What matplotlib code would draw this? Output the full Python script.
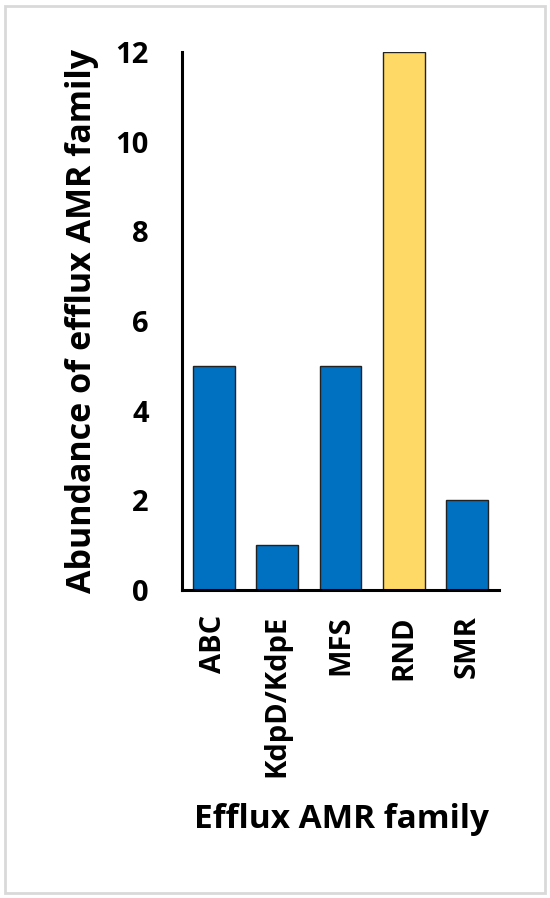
import matplotlib
matplotlib.use('Agg')
import matplotlib.pyplot as plt
from matplotlib.patches import Rectangle

families = ["ABC", "KdpD/KdpE", "MFS", "RND", "SMR"]
abundance = [5, 1, 5, 12, 2]
bar_colors = ["#0070C0", "#0070C0", "#0070C0", "#FFD966", "#0070C0"]

plt.rcParams['font.family'] = ['Open Sans', 'DejaVu Sans']
plt.rcParams['font.weight'] = 'bold'

fig = plt.figure(figsize=(5.5, 8.98), dpi=100)
ax = fig.add_axes([182/550, 1 - 590/898, (499 - 182)/550, (590 - 52)/898])

x = range(len(families))
ax.bar(x, abundance, width=0.66, color=bar_colors, edgecolor="#222222", linewidth=1)

ax.set_xlim(-0.5, len(families) - 0.5)
ax.set_ylim(0, 12)
ax.set_yticks(range(0, 13, 2))
ax.set_xticks(list(x))
ax.set_xticklabels(families, rotation=90, fontsize=21, fontweight='bold')
ax.tick_params(axis='y', labelsize=21, length=0, pad=24)
ax.tick_params(axis='x', length=0, pad=18)
for lab in ax.get_yticklabels():
    lab.set_fontweight('bold')

for s in ["top", "right"]:
    ax.spines[s].set_visible(False)
ax.spines["left"].set_linewidth(2.2)
ax.spines["bottom"].set_linewidth(2.2)

ax.set_ylabel("Abundance of efflux AMR family", fontsize=24.5, fontweight='bold', labelpad=12)
fig.text(342/550, 1 - 820/898, "Efflux AMR family", fontsize=24, fontweight='bold',
         ha='center', va='center')

# light frame around the figure
fig.patches.append(Rectangle((5/550, 5/898), 540/550, 887/898, transform=fig.transFigure,
                             fill=False, edgecolor="#D9D9D9", linewidth=2))

fig.savefig("out.png", dpi=100)
